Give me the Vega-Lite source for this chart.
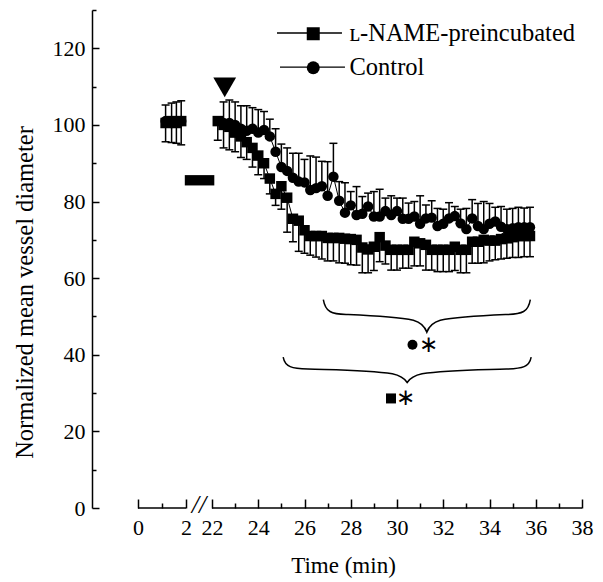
{
  "$schema": "https://vega.github.io/schema/vega-lite/v6.json",
  "width": 500,
  "height": 498,
  "autosize": "none",
  "padding": {"left": 92, "top": 10, "right": 11, "bottom": 74},
  "background": "white",
  "config": {"view": {"stroke": null}, "font": "Liberation Serif"},
  "datasets": {
    "pts": [
      {"s": "Control", "seg": "a", "t": 1.15, "v": 101, "c": 105.2},
      {"s": "Control", "seg": "a", "t": 1.4, "v": 100.5, "c": 105.7},
      {"s": "Control", "seg": "a", "t": 1.6, "v": 101, "c": 106},
      {"s": "Control", "seg": "a", "t": 1.8, "v": 101, "c": 106.3},
      {"s": "ʟ-NAME-preincubated", "seg": "a", "t": 1.15, "v": 100.5, "c": 95.6},
      {"s": "ʟ-NAME-preincubated", "seg": "a", "t": 1.4, "v": 101, "c": 95.4},
      {"s": "ʟ-NAME-preincubated", "seg": "a", "t": 1.6, "v": 100.5, "c": 95.2},
      {"s": "ʟ-NAME-preincubated", "seg": "a", "t": 1.8, "v": 101, "c": 94.8},
      {"s": "ʟ-NAME-preincubated", "seg": "b", "t": 22.25, "v": 101, "c": 96},
      {"s": "ʟ-NAME-preincubated", "seg": "b", "t": 22.5, "v": 100, "c": 94},
      {"s": "ʟ-NAME-preincubated", "seg": "b", "t": 22.75, "v": 99.5, "c": 93.5},
      {"s": "ʟ-NAME-preincubated", "seg": "b", "t": 23.0, "v": 98, "c": 93},
      {"s": "ʟ-NAME-preincubated", "seg": "b", "t": 23.25, "v": 97, "c": 91.5},
      {"s": "ʟ-NAME-preincubated", "seg": "b", "t": 23.5, "v": 95.5, "c": 91},
      {"s": "ʟ-NAME-preincubated", "seg": "b", "t": 23.75, "v": 94, "c": 89},
      {"s": "ʟ-NAME-preincubated", "seg": "b", "t": 24.0, "v": 92, "c": 87},
      {"s": "ʟ-NAME-preincubated", "seg": "b", "t": 24.25, "v": 90, "c": 86},
      {"s": "ʟ-NAME-preincubated", "seg": "b", "t": 24.5, "v": 86, "c": 82},
      {"s": "ʟ-NAME-preincubated", "seg": "b", "t": 24.75, "v": 82, "c": 79},
      {"s": "ʟ-NAME-preincubated", "seg": "b", "t": 25.0, "v": 84, "c": 78},
      {"s": "ʟ-NAME-preincubated", "seg": "b", "t": 25.25, "v": 81, "c": 72},
      {"s": "ʟ-NAME-preincubated", "seg": "b", "t": 25.5, "v": 75.5, "c": 69.5},
      {"s": "ʟ-NAME-preincubated", "seg": "b", "t": 25.75, "v": 75, "c": 67},
      {"s": "ʟ-NAME-preincubated", "seg": "b", "t": 26.0, "v": 72.5, "c": 66.5},
      {"s": "ʟ-NAME-preincubated", "seg": "b", "t": 26.25, "v": 71, "c": 66},
      {"s": "ʟ-NAME-preincubated", "seg": "b", "t": 26.5, "v": 71, "c": 65.5},
      {"s": "ʟ-NAME-preincubated", "seg": "b", "t": 26.75, "v": 71, "c": 65},
      {"s": "ʟ-NAME-preincubated", "seg": "b", "t": 27.0, "v": 70.5, "c": 64.5},
      {"s": "ʟ-NAME-preincubated", "seg": "b", "t": 27.25, "v": 70.5, "c": 64.5},
      {"s": "ʟ-NAME-preincubated", "seg": "b", "t": 27.5, "v": 70.5, "c": 64},
      {"s": "ʟ-NAME-preincubated", "seg": "b", "t": 27.75, "v": 70.3, "c": 63.9},
      {"s": "ʟ-NAME-preincubated", "seg": "b", "t": 28.0, "v": 70.2, "c": 63.5},
      {"s": "ʟ-NAME-preincubated", "seg": "b", "t": 28.25, "v": 70, "c": 63.4},
      {"s": "ʟ-NAME-preincubated", "seg": "b", "t": 28.5, "v": 68, "c": 61.4},
      {"s": "ʟ-NAME-preincubated", "seg": "b", "t": 28.75, "v": 67.5, "c": 61.4},
      {"s": "ʟ-NAME-preincubated", "seg": "b", "t": 29.0, "v": 68.2, "c": 62},
      {"s": "ʟ-NAME-preincubated", "seg": "b", "t": 29.25, "v": 70.7, "c": 64.3},
      {"s": "ʟ-NAME-preincubated", "seg": "b", "t": 29.5, "v": 68.5, "c": 63.7},
      {"s": "ʟ-NAME-preincubated", "seg": "b", "t": 29.75, "v": 67.4, "c": 62.1},
      {"s": "ʟ-NAME-preincubated", "seg": "b", "t": 30.0, "v": 67.4, "c": 62.1},
      {"s": "ʟ-NAME-preincubated", "seg": "b", "t": 30.25, "v": 67.4, "c": 62.6},
      {"s": "ʟ-NAME-preincubated", "seg": "b", "t": 30.5, "v": 67.4, "c": 62.6},
      {"s": "ʟ-NAME-preincubated", "seg": "b", "t": 30.75, "v": 69.5, "c": 63.2},
      {"s": "ʟ-NAME-preincubated", "seg": "b", "t": 31.0, "v": 69.1, "c": 63.2},
      {"s": "ʟ-NAME-preincubated", "seg": "b", "t": 31.25, "v": 68.7, "c": 62.1},
      {"s": "ʟ-NAME-preincubated", "seg": "b", "t": 31.5, "v": 67.4, "c": 62.1},
      {"s": "ʟ-NAME-preincubated", "seg": "b", "t": 31.75, "v": 67.4, "c": 61.7},
      {"s": "ʟ-NAME-preincubated", "seg": "b", "t": 32.0, "v": 67.4, "c": 61.7},
      {"s": "ʟ-NAME-preincubated", "seg": "b", "t": 32.25, "v": 67.4, "c": 61.7},
      {"s": "ʟ-NAME-preincubated", "seg": "b", "t": 32.5, "v": 68.2, "c": 62},
      {"s": "ʟ-NAME-preincubated", "seg": "b", "t": 32.75, "v": 67.4, "c": 61.4},
      {"s": "ʟ-NAME-preincubated", "seg": "b", "t": 33.0, "v": 67.4, "c": 61.4},
      {"s": "ʟ-NAME-preincubated", "seg": "b", "t": 33.25, "v": 69.5, "c": 63.9},
      {"s": "ʟ-NAME-preincubated", "seg": "b", "t": 33.5, "v": 69.5, "c": 63.9},
      {"s": "ʟ-NAME-preincubated", "seg": "b", "t": 33.75, "v": 70, "c": 64},
      {"s": "ʟ-NAME-preincubated", "seg": "b", "t": 34.0, "v": 69.8, "c": 64.5},
      {"s": "ʟ-NAME-preincubated", "seg": "b", "t": 34.25, "v": 69.8, "c": 64.8},
      {"s": "ʟ-NAME-preincubated", "seg": "b", "t": 34.5, "v": 70.2, "c": 65},
      {"s": "ʟ-NAME-preincubated", "seg": "b", "t": 34.75, "v": 70.4, "c": 65.2},
      {"s": "ʟ-NAME-preincubated", "seg": "b", "t": 35.0, "v": 70.7, "c": 65.4},
      {"s": "ʟ-NAME-preincubated", "seg": "b", "t": 35.25, "v": 71, "c": 65.4},
      {"s": "ʟ-NAME-preincubated", "seg": "b", "t": 35.5, "v": 71, "c": 65.6},
      {"s": "ʟ-NAME-preincubated", "seg": "b", "t": 35.75, "v": 71, "c": 65.6},
      {"s": "Control", "seg": "b", "t": 22.5, "v": 100.5, "c": 106},
      {"s": "Control", "seg": "b", "t": 22.75, "v": 100.5, "c": 106.5},
      {"s": "Control", "seg": "b", "t": 23.0, "v": 100, "c": 106},
      {"s": "Control", "seg": "b", "t": 23.25, "v": 99, "c": 105},
      {"s": "Control", "seg": "b", "t": 23.5, "v": 98.5, "c": 105},
      {"s": "Control", "seg": "b", "t": 23.75, "v": 99, "c": 104.5},
      {"s": "Control", "seg": "b", "t": 24.0, "v": 98, "c": 104},
      {"s": "Control", "seg": "b", "t": 24.25, "v": 98.7, "c": 103.5},
      {"s": "Control", "seg": "b", "t": 24.5, "v": 97, "c": 101.5},
      {"s": "Control", "seg": "b", "t": 24.75, "v": 93, "c": 99},
      {"s": "Control", "seg": "b", "t": 25.0, "v": 89, "c": 95},
      {"s": "Control", "seg": "b", "t": 25.25, "v": 88, "c": 94},
      {"s": "Control", "seg": "b", "t": 25.5, "v": 86.2, "c": 92.6},
      {"s": "Control", "seg": "b", "t": 25.75, "v": 85.2, "c": 92.6},
      {"s": "Control", "seg": "b", "t": 26.0, "v": 85, "c": 91},
      {"s": "Control", "seg": "b", "t": 26.25, "v": 83, "c": 91.9},
      {"s": "Control", "seg": "b", "t": 26.5, "v": 83.5, "c": 91.6},
      {"s": "Control", "seg": "b", "t": 26.75, "v": 84, "c": 90.5},
      {"s": "Control", "seg": "b", "t": 27.0, "v": 81.5, "c": 90.4},
      {"s": "Control", "seg": "b", "t": 27.25, "v": 86.5, "c": 95.2},
      {"s": "Control", "seg": "b", "t": 27.5, "v": 80.2, "c": 85.2},
      {"s": "Control", "seg": "b", "t": 27.75, "v": 77.1, "c": 84.9},
      {"s": "Control", "seg": "b", "t": 28.0, "v": 79, "c": 82.6},
      {"s": "Control", "seg": "b", "t": 28.25, "v": 76.5, "c": 83.9},
      {"s": "Control", "seg": "b", "t": 28.5, "v": 76.8, "c": 81.3},
      {"s": "Control", "seg": "b", "t": 28.75, "v": 78.7, "c": 82.2},
      {"s": "Control", "seg": "b", "t": 29.0, "v": 76.1, "c": 82.6},
      {"s": "Control", "seg": "b", "t": 29.25, "v": 76.1, "c": 83.2},
      {"s": "Control", "seg": "b", "t": 29.5, "v": 77.5, "c": 80.9},
      {"s": "Control", "seg": "b", "t": 29.75, "v": 76.5, "c": 81.5},
      {"s": "Control", "seg": "b", "t": 30.0, "v": 77.5, "c": 80.9},
      {"s": "Control", "seg": "b", "t": 30.25, "v": 75.5, "c": 80.9},
      {"s": "Control", "seg": "b", "t": 30.5, "v": 75.5, "c": 79.6},
      {"s": "Control", "seg": "b", "t": 30.75, "v": 76.1, "c": 80},
      {"s": "Control", "seg": "b", "t": 31.0, "v": 74.2, "c": 81.5},
      {"s": "Control", "seg": "b", "t": 31.25, "v": 75.6, "c": 79.1},
      {"s": "Control", "seg": "b", "t": 31.5, "v": 75.8, "c": 80.2},
      {"s": "Control", "seg": "b", "t": 31.75, "v": 73.6, "c": 78.2},
      {"s": "Control", "seg": "b", "t": 32.0, "v": 74.2, "c": 78},
      {"s": "Control", "seg": "b", "t": 32.25, "v": 75.6, "c": 79.7},
      {"s": "Control", "seg": "b", "t": 32.5, "v": 76.2, "c": 78.7},
      {"s": "Control", "seg": "b", "t": 32.75, "v": 74.3, "c": 78},
      {"s": "Control", "seg": "b", "t": 33.0, "v": 72.8, "c": 78.2},
      {"s": "Control", "seg": "b", "t": 33.25, "v": 75.6, "c": 80.5},
      {"s": "Control", "seg": "b", "t": 33.5, "v": 73.6, "c": 79.5},
      {"s": "Control", "seg": "b", "t": 33.75, "v": 72.8, "c": 80},
      {"s": "Control", "seg": "b", "t": 34.0, "v": 74.2, "c": 79.5},
      {"s": "Control", "seg": "b", "t": 34.25, "v": 74.8, "c": 78.5},
      {"s": "Control", "seg": "b", "t": 34.5, "v": 73.4, "c": 78.7},
      {"s": "Control", "seg": "b", "t": 34.75, "v": 72.8, "c": 78},
      {"s": "Control", "seg": "b", "t": 35.0, "v": 73, "c": 78.2},
      {"s": "Control", "seg": "b", "t": 35.25, "v": 73.3, "c": 78.5},
      {"s": "Control", "seg": "b", "t": 35.5, "v": 73.3, "c": 78.3},
      {"s": "Control", "seg": "b", "t": 35.75, "v": 73.3, "c": 78.5}
    ],
    "legline": [{"s": "ʟ-NAME-preincubated", "t": 24.81, "t2": 27.62, "v": 124.0}, {"s": "Control", "t": 24.94, "t2": 27.75, "v": 115.1}],
    "xline": [{"t": 0, "t2": 2}, {"t": 22, "t2": 38}],
    "brk": [{"t": 12, "v": 0, "txt": "//"}],
    "bar": [{"t": 1.95, "t2": 22.1, "v": 84.2, "v2": 86.9}],
    "arrow": [{"t": 22.55, "v": 109.8}],
    "braces": [{"k": "top", "t": 31.29, "v": 50.1}, {"k": "bot", "t": 30.44, "v": 36.0}],
    "sig": [{"k": "Control", "t": 30.67, "v": 42.6, "at": 31.37}, {"k": "L-NAME", "t": 29.74, "v": 28.6, "at": 30.35}]
  },
  "layer": [
    {
      "data": {"name": "pts"},
      "mark": {"type": "rule", "color": "black", "strokeWidth": 1.5},
      "encoding": {
        "x": {
          "field": "t", "type": "quantitative",
          "scale": {"domain": [0, 2, 22, 38], "range": [46, 94, 120, 490], "nice": false, "zero": false},
          "axis": {
            "title": "Time (min)",
            "values": [0, 1, 2, 22, 23, 24, 25, 26, 27, 28, 29, 30, 31, 32, 33, 34, 35, 36, 37, 38],
            "tickCount": 60, "format": "d",
            "labelExpr": "datum.value % 2 === 0 ? datum.label : ''",
            "tickSize": {"condition": {"test": "datum.value % 2 === 0", "value": -9}, "value": -5},
            "tickColor": "black", "tickWidth": 1.5,
            "domain": false, "grid": false,
            "labelFont": "Liberation Serif", "labelFontSize": 22, "labelColor": "black",
            "labelPadding": 18, "labelOverlap": false, "labelFlush": false, "labelBound": false,
            "titleFont": "Liberation Serif", "titleFontSize": 23, "titleFontWeight": "normal", "titleColor": "black",
            "titlePadding": 12, "titleX": 251, "titleAnchor": null, "titleAlign": "center"
          }
        },
        "y": {
          "field": "v", "type": "quantitative",
          "scale": {"domain": [0, 130], "nice": false, "zero": true},
          "axis": {
            "title": "Normalized mean vessel diameter",
            "values": [0, 10, 20, 30, 40, 50, 60, 70, 80, 90, 100, 110, 120, 130],
            "tickCount": 60, "format": "d",
            "labelExpr": "datum.value % 20 === 0 && datum.value < 130 ? datum.label : ''",
            "tickSize": {"condition": {"test": "datum.value % 20 === 0", "value": -7}, "value": -4},
            "tickColor": "black", "tickWidth": 1.5,
            "domainColor": "black", "domainWidth": 1.5, "grid": false,
            "labelFont": "Liberation Serif", "labelFontSize": 22, "labelColor": "black",
            "labelPadding": 14, "labelOverlap": false, "labelFlush": false,
            "titleFont": "Liberation Serif", "titleFontSize": 24.5, "titleFontWeight": "normal", "titleColor": "black",
            "titleX": -67, "titleY": 282, "titleAngle": -90, "titleAlign": "center", "titleBaseline": "middle"
          }
        },
        "y2": {"field": "c"},
        "detail": {"field": "s"}
      }
    },
    {
      "data": {"name": "pts"},
      "mark": {"type": "point", "shape": "stroke", "size": 64, "stroke": "black", "strokeWidth": 1.5, "filled": false, "opacity": 1},
      "encoding": {
        "x": {"field": "t", "type": "quantitative"},
        "y": {"field": "c", "type": "quantitative"}
      }
    },
    {
      "data": {"name": "pts"},
      "mark": {"type": "line", "color": "black", "strokeWidth": 1},
      "encoding": {
        "x": {"field": "t", "type": "quantitative"},
        "y": {"field": "v", "type": "quantitative"},
        "detail": [{"field": "s"}, {"field": "seg"}]
      }
    },
    {
      "data": {"name": "legline"},
      "mark": {"type": "rule", "color": "black", "strokeWidth": 1.3},
      "encoding": {
        "x": {"field": "t", "type": "quantitative"},
        "x2": {"field": "t2"},
        "y": {"field": "v", "type": "quantitative"}
      }
    },
    {
      "data": {"name": "pts"},
      "mark": {"type": "point", "filled": true, "size": 110, "color": "black", "opacity": 1},
      "encoding": {
        "x": {"field": "t", "type": "quantitative"},
        "y": {"field": "v", "type": "quantitative"},
        "shape": {
          "field": "s", "type": "nominal",
          "scale": {"domain": ["ʟ-NAME-preincubated", "Control"], "range": ["square", "circle"]},
          "legend": {
            "orient": "none", "legendX": 209, "legendY": 11.5, "title": null, "padding": 0,
            "labelFont": "Liberation Serif", "labelFontSize": 24.5, "labelColor": "black", "labelLimit": 400,
            "labelOffset": 24, "rowPadding": 9, "symbolSize": 169, "symbolOpacity": 1,
            "symbolFillColor": "black", "symbolStrokeColor": "black", "symbolStrokeWidth": 0
          }
        }
      }
    },
    {
      "data": {"name": "bar"},
      "mark": {"type": "rect", "color": "black"},
      "encoding": {
        "x": {"field": "t", "type": "quantitative"},
        "x2": {"field": "t2"},
        "y": {"field": "v", "type": "quantitative"},
        "y2": {"field": "v2"}
      }
    },
    {
      "data": {"name": "arrow"},
      "mark": {"type": "point", "shape": "triangle-down", "filled": true, "size": 520, "color": "black", "opacity": 1},
      "encoding": {
        "x": {"field": "t", "type": "quantitative"},
        "y": {"field": "v", "type": "quantitative"}
      }
    },
    {
      "data": {"name": "braces"},
      "transform": [{"filter": "datum.k === 'top'"}],
      "mark": {"type": "point", "shape": "M-1,-0.16C-0.98,-0.04,-0.92,-0.02,-0.78,-0.015C-0.55,-0.005,-0.3,0.005,-0.13,0.04C-0.06,0.06,-0.02,0.1,0,0.155C0.02,0.1,0.06,0.06,0.13,0.04C0.3,0.005,0.55,-0.005,0.78,-0.015C0.92,-0.02,0.98,-0.04,1,-0.16", "size": 42849, "filled": false, "stroke": "black", "strokeWidth": 1.5, "opacity": 1},
      "encoding": {
        "x": {"field": "t", "type": "quantitative"},
        "y": {"field": "v", "type": "quantitative"}
      }
    },
    {
      "data": {"name": "braces"},
      "transform": [{"filter": "datum.k === 'bot'"}],
      "mark": {"type": "point", "shape": "M-1,-0.105C-0.985,-0.025,-0.93,-0.012,-0.8,-0.008C-0.55,0,-0.3,0.002,-0.12,0.03C-0.05,0.045,-0.02,0.07,0,0.1C0.02,0.07,0.05,0.045,0.12,0.03C0.3,0.002,0.55,0,0.8,-0.008C0.93,-0.012,0.985,-0.025,1,-0.105", "size": 61504, "filled": false, "stroke": "black", "strokeWidth": 1.5, "opacity": 1},
      "encoding": {
        "x": {"field": "t", "type": "quantitative"},
        "y": {"field": "v", "type": "quantitative"}
      }
    },
    {
      "data": {"name": "sig"},
      "transform": [{"filter": "datum.k === 'Control'"}],
      "mark": {"type": "point", "shape": "circle", "filled": true, "size": 100, "color": "black", "opacity": 1},
      "encoding": {
        "x": {"field": "t", "type": "quantitative"},
        "y": {"field": "v", "type": "quantitative"}
      }
    },
    {
      "data": {"name": "sig"},
      "transform": [{"filter": "datum.k !== 'Control'"}],
      "mark": {"type": "point", "shape": "square", "filled": true, "size": 100, "color": "black", "opacity": 1},
      "encoding": {
        "x": {"field": "t", "type": "quantitative"},
        "y": {"field": "v", "type": "quantitative"}
      }
    },
    {
      "data": {"name": "sig"},
      "mark": {"type": "text", "text": "∗", "font": "Liberation Serif", "fontSize": 23, "color": "black", "baseline": "middle", "align": "center"},
      "encoding": {
        "x": {"field": "at", "type": "quantitative"},
        "y": {"field": "v", "type": "quantitative"}
      }
    },
    {
      "data": {"name": "xline"},
      "mark": {"type": "rule", "color": "black", "strokeWidth": 1.5},
      "encoding": {
        "x": {"field": "t", "type": "quantitative"},
        "x2": {"field": "t2"},
        "y": {"datum": 0, "type": "quantitative"}
      }
    },
    {
      "data": {"name": "brk"},
      "mark": {"type": "text", "font": "Liberation Serif", "fontSize": 26, "fontStyle": "italic", "color": "black", "baseline": "middle", "align": "center", "dy": -3},
      "encoding": {
        "x": {"field": "t", "type": "quantitative"},
        "y": {"field": "v", "type": "quantitative"},
        "text": {"field": "txt"}
      }
    }
  ]
}
